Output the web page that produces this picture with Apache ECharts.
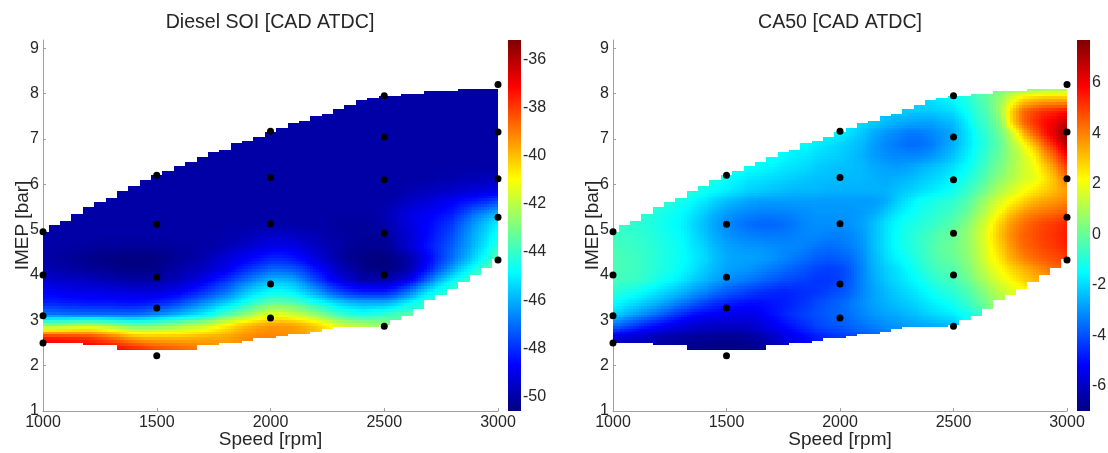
<!DOCTYPE html>
<html>
<head>
<meta charset="utf-8">
<style>
    html, body { margin: 0; padding: 0; background: #fff; }
    #chart { width: 1108px; height: 453px; }
</style>
<script src="https://cdn.jsdelivr.net/npm/echarts@6/dist/echarts.min.js"></script>
</head>
<body>
<div id="chart"></div>
<script>
const _ = null;

// cell centres of the map, every 50 rpm / 0.25 bar
const speeds = [1000,1050,1100,1150,1200,1250,1300,1350,1400,1450,1500,1550,1600,1650,1700,1750,1800,1850,1900,1950,2000,2050,2100,2150,2200,2250,2300,2350,2400,2450,2500,2550,2600,2650,2700,2750,2800,2850,2900,2950,3000];
const imepRows = [8.125,7.875,7.625,7.375,7.125,6.875,6.625,6.375,6.125,5.875,5.625,5.375,5.125,4.875,4.625,4.375,4.125,3.875,3.625,3.375,3.125,2.875,2.625,2.375];

// outline of the measured region for each speed above
const topEdge = [4.95,5.1,5.2,5.35,5.5,5.6,5.7,5.85,5.95,6.1,6.2,6.3,6.4,6.5,6.6,6.7,6.8,6.9,6.95,7.05,7.15,7.25,7.35,7.4,7.5,7.55,7.65,7.75,7.85,7.9,7.95,7.95,8.0,8.0,8.05,8.05,8.05,8.1,8.1,8.1,8.1];
const bottomEdge = [2.5,2.5,2.5,2.5,2.45,2.45,2.45,2.35,2.35,2.35,2.35,2.35,2.35,2.35,2.45,2.45,2.5,2.5,2.55,2.6,2.6,2.65,2.7,2.7,2.75,2.8,2.85,2.85,2.85,2.85,2.9,3.0,3.1,3.25,3.45,3.55,3.7,3.85,4.0,4.15,4.35];

// measured operating points
const pointSpeed = [1000,1000,1000,1000,1500,1500,1500,1500,1500,2000,2000,2000,2000,2000,2500,2500,2500,2500,2500,2500,3000,3000,3000,3000,3000];
const pointImep = [2.5,3.1,4.0,4.95,2.22,3.27,3.95,5.12,6.2,3.05,3.8,5.13,6.15,7.17,2.87,4.0,4.92,6.1,7.04,7.95,4.33,5.27,6.12,7.15,8.2];

const soiValues = [
[_,_,_,_,_,_,_,_,_,_, _,_,_,_,_,_,_,_,_,_, _,_,_,_,_,_,_,_,_,_, _,_,-50,-50,-50,-50,-50,-50,-50,-50,-50],
[_,_,_,_,_,_,_,_,_,_, _,_,_,_,_,_,_,_,_,_, _,_,_,_,_,_,_,-50,-50,-50, -50,-50,-50,-50,-50,-50,-50,-50,-50,-50,-50],
[_,_,_,_,_,_,_,_,_,_, _,_,_,_,_,_,_,_,_,_, _,_,_,_,_,-50,-50,-50,-50,-50, -50,-50,-50,-50,-50,-50,-50,-50,-50,-50,-50],
[_,_,_,_,_,_,_,_,_,_, _,_,_,_,_,_,_,_,_,_, _,-50,-50,-50,-50,-50,-50,-50,-50,-50, -50,-50,-50,-50,-50,-50,-50,-50,-50,-50,-50],
[_,_,_,_,_,_,_,_,_,_, _,_,_,_,_,_,_,_,_,-50, -50,-50,-50,-50,-50,-50,-50,-50,-50,-50, -50,-50,-50,-50,-50,-50,-50,-50,-50,-50,-50],
[_,_,_,_,_,_,_,_,_,_, _,_,_,_,_,_,_,-50,-50,-50, -50,-50,-50,-50,-50,-50,-50,-50,-50,-50, -50,-50,-50,-50,-50,-50,-50,-50,-50,-50,-50],
[_,_,_,_,_,_,_,_,_,_, _,_,_,_,-50,-50,-50,-50,-50,-50, -50,-50,-50,-50,-50,-50,-50,-50,-50,-50, -50,-50,-50,-50,-50,-50,-50,-50,-50,-50,-50],
[_,_,_,_,_,_,_,_,_,_, _,-50,-50,-50,-50,-50,-50,-50,-50,-50, -50,-50,-50,-50,-50,-50,-50,-50,-50,-50, -50,-50,-50,-50,-50,-50,-50,-50,-50,-50,-50],
[_,_,_,_,_,_,_,_,-50,-50, -50,-50,-50,-50,-50,-50,-50,-50,-50,-50, -50,-50,-50,-50,-50,-50,-50,-50,-50,-50, -50,-50,-50,-50,-50,-49.9,-49.9,-49.8,-49.8,-49.7,-49.6],
[_,_,_,_,_,_,-50,-50,-50,-50, -50,-50,-50,-50,-50,-50,-50,-50,-50,-50, -50,-50,-50,-50,-50,-50,-50,-50,-50,-50, -50,-50,-49.9,-49.8,-49.7,-49.6,-49.5,-49.4,-49.3,-49.2,-49.1],
[_,_,_,-50,-50,-50,-50,-50,-50,-50, -50,-50,-50,-50,-50,-50,-50,-50,-50,-50, -50,-50,-50,-50,-50,-50,-50,-50,-50,-50, -50,-49.9,-49.6,-49.4,-49.2,-49,-48.8,-48.5,-48.3,-48,-47.6],
[_,-50,-50,-50,-50,-50,-50,-50,-50,-50, -50,-50,-50,-50,-50,-50,-50,-50,-50,-50, -50,-50,-50,-50,-50,-50,-50,-50,-50,-50, -49.8,-49.5,-49.2,-49,-48.8,-48.6,-48.3,-47.7,-47,-46.5,-46],
[-50,-50,-50,-50,-50,-50,-50,-50,-50,-50, -50,-50,-50,-50,-50,-50,-50,-50,-50,-50, -50,-50,-50,-50,-50,-50,-50.2,-50.2,-50.2,-50.1, -50,-49.6,-49.2,-48.9,-48.6,-48.2,-47.8,-47,-46.3,-45.6,-45],
[-50,-50,-50,-50,-50,-50,-50,-50,-50,-50, -50,-50,-50,-50,-50,-50,-49.9,-49.9,-49.8,-49.6, -49.5,-49.5,-49.6,-49.7,-49.8,-50,-50,-50.1,-50.2,-50.2, -50.2,-49.8,-49.4,-49,-48.5,-48,-47.5,-46.7,-46,-45.3,-44.6],
[-50,-50,-50,-50.1,-50.1,-50.2,-50.2,-50.2,-50.2,-50.2, -50.2,-50.2,-50.1,-50.1,-50,-50,-49.8,-49.6,-49.4,-49.2, -49,-49,-49,-49.3,-49.6,-49.8,-50,-50.2,-50.3,-50.3, -50.3,-49.9,-49.4,-48.9,-48.3,-47.8,-47.2,-46.5,-45.8,-45,-44.2],
[-50,-50.1,-50.2,-50.3,-50.4,-50.5,-50.5,-50.6,-50.6,-50.6, -50.5,-50.4,-50.2,-50.1,-49.9,-49.6,-49.3,-49,-48.8,-48.5, -48.2,-48.2,-48.4,-48.8,-49.2,-49.6,-50,-50.3,-50.5,-50.6, -50.6,-50.4,-50,-49.4,-48.6,-47.8,-47,-46.2,-45.4,-44.5,-43.5],
[-49.8,-49.9,-50,-50.1,-50.2,-50.3,-50.4,-50.5,-50.5,-50.5, -50.4,-50.2,-50,-49.8,-49.6,-49.3,-49,-48.5,-48,-47.6, -47.2,-47.2,-47.4,-47.9,-48.5,-49,-49.6,-50,-50.4,-50.5, -50.6,-50.4,-50,-49.2,-48.2,-47.2,-46.2,-45.3,-44.5,-43.7,-43],
[-49.3,-49.4,-49.5,-49.5,-49.6,-49.7,-49.8,-49.9,-50,-50, -50,-49.8,-49.6,-49.3,-49,-48.5,-48,-47.4,-46.8,-46.3, -45.8,-45.8,-46,-46.8,-47.6,-48.4,-49,-49.4,-49.8,-49.8, -49.8,-49.5,-49,-48,-46.8,-45.7,-44.8,-44.2,-43.5,_,_],
[-48.8,-48.8,-48.9,-49,-49,-49,-49.1,-49.1,-49.2,-49.2, -49.2,-49,-48.8,-48.4,-48,-47.5,-47,-46.3,-45.6,-45.2, -44.8,-44.8,-45,-45.6,-46.2,-47,-47.6,-48,-48.3,-48.3, -48.3,-47.8,-47,-46,-45,-44.4,-43.8,_,_,_,_],
[-48.2,-48.2,-48.3,-48.3,-48.4,-48.4,-48.4,-48.5,-48.5,-48.4, -48.2,-48,-47.6,-47.1,-46.6,-46.1,-45.6,-45.1,-44.4,-43.8, -43.3,-43.3,-43.5,-44,-44.5,-45,-45.5,-45.8,-46,-46, -46,-45.6,-45,-44.4,-43.8,_,_,_,_,_,_],
[-46.8,-46.8,-46.9,-47,-47,-47,-47,-47,-47,-46.8, -46.5,-46.2,-45.8,-45.4,-45,-44.4,-43.6,-43,-42.4,-41.8, -41.3,-41.3,-41.6,-42,-42.5,-43.1,-43.8,-44.1,-44.4,-44.2, -44,-43.7,-43.4,_,_,_,_,_,_,_,_],
[-42.5,-42.4,-42.2,-42,-41.8,-42,-42.3,-42.7,-43,-43, -42.8,-42.6,-42.3,-42,-41.8,-41.4,-40.8,-40.3,-39.9,-39.6, -39.4,-39.4,-39.5,-39.8,-40.2,-40.8,-41.4,-41.8,-42,-42.2, -42.4,_,_,_,_,_,_,_,_,_,_],
[-37.6,-37.7,-37.8,-37.9,-38,-38.4,-38.8,-39.3,-39.8,-40, -40,-40,-40,-39.9,-39.8,-39.7,-39.6,-39.4,-39.2,-39.1, -39.1,-39.2,-39.3,-39.5,-39.8,-40.2,_,_,_,_, _,_,_,_,_,_,_,_,_,_,_],
[-36.5,-36.6,-36.7,-36.7,-36.8,-36.9,-37,-37.3,-37.6,-37.9, -38.2,-38.4,-38.6,-38.8,-39,-39.2,_,_,_,_, _,_,_,_,_,_,_,_,_,_, _,_,_,_,_,_,_,_,_,_,_]
];

const ca50Values = [
[_,_,_,_,_,_,_,_,_,_, _,_,_,_,_,_,_,_,_,_, _,_,_,_,_,_,_,_,_,_, _,_,-0.2,0,0.2,0.4,0.5,0.6,0.7,0.8,0.9],
[_,_,_,_,_,_,_,_,_,_, _,_,_,_,_,_,_,_,_,_, _,_,_,_,_,_,_,-2,-1.9,-1.7, -1.5,-1.1,-0.6,-0.1,0.6,1.6,2.6,3,3.2,3.2,3.2],
[_,_,_,_,_,_,_,_,_,_, _,_,_,_,_,_,_,_,_,_, _,_,_,_,_,-2.2,-2.2,-2.2,-2.2,-2.1, -1.9,-1.4,-0.8,-0.3,0.7,2.6,4.2,4.8,5.2,5.4,5.6],
[_,_,_,_,_,_,_,_,_,_, _,_,_,_,_,_,_,_,_,_, _,-1.8,-2,-2.2,-2.4,-2.6,-2.7,-2.8,-2.8,-2.6, -2.4,-1.8,-1,-0.5,0.3,2.5,4.2,5.1,5.7,6.1,6.7],
[_,_,_,_,_,_,_,_,_,_, _,_,_,_,_,_,_,_,_,-1.6, -1.7,-2,-2.3,-2.7,-3,-3.2,-3.4,-3.4,-3.2,-3, -2.7,-2,-1.3,-0.7,0,1.2,3,4.4,5.5,6.5,7.5],
[_,_,_,_,_,_,_,_,_,_, _,_,_,_,_,_,_,-1.5,-1.7,-1.9, -2.1,-2.3,-2.5,-2.9,-3.2,-3.4,-3.6,-3.6,-3.4,-3, -2.6,-2,-1.4,-0.8,-0.2,0.8,1.8,3,4.4,5.6,7],
[_,_,_,_,_,_,_,_,_,_, _,_,_,_,-1.3,-1.5,-1.7,-1.8,-2,-2.1, -2.2,-2.4,-2.6,-2.9,-3.1,-3.2,-3.2,-3.2,-3,-2.7, -2.3,-1.8,-1.2,-0.6,0,0.7,1.4,2.2,3.5,4.6,5.8],
[_,_,_,_,_,_,_,_,_,_, _,-1.2,-1.4,-1.5,-1.6,-1.8,-1.9,-2,-2.2,-2.3, -2.4,-2.4,-2.5,-2.7,-2.8,-2.9,-2.8,-2.6,-2.4,-2.2, -1.9,-1.5,-1,-0.4,0.2,0.8,1.4,1.9,2.8,3.8,5],
[_,_,_,_,_,_,_,_,-1,-1.1, -1.4,-1.6,-1.8,-1.9,-2,-2.1,-2.2,-2.3,-2.4,-2.4, -2.5,-2.5,-2.5,-2.6,-2.7,-2.6,-2.5,-2.3,-2.1,-1.9, -1.6,-1.2,-0.7,-0.1,0.5,1,1.5,1.8,2.4,3.2,4.2],
[_,_,_,_,_,_,-0.8,-1,-1.2,-1.5, -1.7,-1.9,-2.1,-2.2,-2.3,-2.4,-2.5,-2.5,-2.5,-2.6, -2.6,-2.6,-2.6,-2.6,-2.6,-2.4,-2.2,-2,-1.8,-1.6, -1.3,-0.8,-0.3,0.3,1,1.5,2,2.4,2.8,3.2,3.6],
[_,_,_,-0.7,-0.8,-1,-1.2,-1.5,-1.8,-2.1, -2.4,-2.6,-2.8,-2.9,-2.9,-2.9,-2.9,-2.9,-2.9,-2.9, -2.9,-2.9,-2.9,-2.9,-2.7,-2.2,-1.8,-1.4,-1.2,-1, -0.8,-0.4,0.2,1,1.6,2.2,2.7,3.2,3.5,3.7,3.9],
[_,-0.7,-0.8,-0.9,-1.1,-1.3,-1.5,-1.8,-2.2,-2.6, -2.9,-3.1,-3.2,-3.3,-3.3,-3.3,-3.2,-3.1,-3,-3, -3,-3,-2.9,-2.7,-2.3,-1.8,-1.5,-1.2,-1,-0.8, -0.5,-0.1,0.6,1.3,2.2,3,3.6,4,4.2,4.4,4.6],
[-0.6,-0.7,-0.9,-1,-1.2,-1.4,-1.6,-2,-2.4,-2.8, -3.2,-3.4,-3.6,-3.7,-3.7,-3.6,-3.4,-3.2,-3.1,-3.1, -3.1,-3,-2.8,-2.4,-1.9,-1.5,-1.2,-1,-0.8,-0.5, -0.2,0.3,1,1.8,2.8,3.6,4.2,4.6,4.9,5.1,5.4],
[-0.6,-0.7,-0.8,-0.9,-1.1,-1.3,-1.5,-1.9,-2.3,-2.7, -3,-3.2,-3.3,-3.4,-3.4,-3.4,-3.3,-3.2,-3.2,-3.3, -3.3,-3.2,-2.9,-2.4,-1.9,-1.4,-1.1,-0.8,-0.5,-0.2, 0,0.5,1.2,2,3,3.8,4.4,4.7,5,5.2,5.5],
[-0.5,-0.6,-0.7,-0.8,-1,-1.2,-1.4,-1.8,-2.1,-2.5, -2.8,-2.9,-3,-3,-3.1,-3.2,-3.2,-3.3,-3.5,-3.6, -3.5,-3.3,-3,-2.4,-1.9,-1.4,-1.1,-0.8,-0.4,-0.1, 0.1,0.5,1.1,1.9,2.8,3.6,4.3,4.6,4.9,5.1,5.4],
[-0.4,-0.5,-0.6,-0.8,-1,-1.2,-1.4,-1.7,-2,-2.4, -2.7,-2.8,-2.8,-2.9,-3,-3.2,-3.4,-3.6,-3.8,-3.9, -3.8,-3.6,-3.1,-2.5,-2,-1.6,-1.3,-0.9,-0.5,-0.2, 0,0.4,1,1.8,2.5,3.3,3.9,4.3,4.6,4.8,5],
[-0.4,-0.5,-0.6,-0.8,-1,-1.2,-1.5,-1.8,-2.2,-2.5, -2.8,-2.9,-3,-3.2,-3.4,-3.6,-3.8,-4,-4.2,-4.3, -4.2,-3.8,-3.2,-2.6,-2.2,-1.9,-1.5,-1.1,-0.7,-0.4, -0.3,0.2,0.8,1.5,2.1,2.7,3.2,3.6,4,4.3,4.6],
[-0.5,-0.6,-0.7,-0.9,-1.2,-1.5,-1.8,-2.2,-2.5,-2.8, -3.1,-3.3,-3.5,-3.7,-3.9,-4.1,-4.2,-4.3,-4.4,-4.4, -4.2,-3.8,-3.2,-2.7,-2.3,-2,-1.7,-1.4,-1,-0.7, -0.5,-0.1,0.5,1.1,1.7,2.2,2.7,3.1,3.4,_,_],
[-0.9,-1.1,-1.3,-1.6,-1.9,-2.2,-2.5,-2.9,-3.2,-3.6, -3.9,-4.1,-4.3,-4.5,-4.6,-4.7,-4.6,-4.5,-4.4,-4.2, -4,-3.7,-3.2,-2.8,-2.5,-2.2,-2,-1.7,-1.4,-1.1, -0.9,-0.5,0,0.6,1.2,1.6,2,_,_,_,_],
[-1.4,-1.7,-2,-2.3,-2.6,-3,-3.4,-3.8,-4.2,-4.5, -4.7,-4.9,-5,-5,-4.9,-4.8,-4.6,-4.4,-4.1,-3.9, -3.7,-3.4,-3.1,-2.8,-2.6,-2.4,-2.2,-2,-1.7,-1.5, -1.2,-0.8,-0.3,0.3,0.8,_,_,_,_,_,_],
[-2.1,-2.5,-2.9,-3.3,-3.7,-4.2,-4.6,-5,-5.2,-5.3, -5.4,-5.5,-5.5,-5.3,-5,-4.7,-4.4,-4.2,-4,-3.8, -3.7,-3.5,-3.2,-3,-2.8,-2.7,-2.5,-2.3,-2.1,-1.9, -1.7,-1.4,-0.9,_,_,_,_,_,_,_,_],
[-3.6,-4,-4.4,-4.8,-5.1,-5.4,-5.6,-5.8,-5.9,-6, -6,-6,-5.9,-5.7,-5.4,-5.1,-4.8,-4.5,-4.2,-4, -3.9,-3.7,-3.5,-3.3,-3.1,-3,-2.9,-2.8,-2.7,-2.6, -2.4,_,_,_,_,_,_,_,_,_,_],
[-5.6,-5.8,-6,-6.1,-6.3,-6.4,-6.5,-6.6,-6.6,-6.7, -6.7,-6.7,-6.6,-6.4,-6,-5.7,-5.4,-5.1,-4.8,-4.6, -4.4,-4.2,-4,-3.8,-3.6,-3.4,_,_,_,_, _,_,_,_,_,_,_,_,_,_,_],
[-6.2,-6.3,-6.4,-6.5,-6.5,-6.6,-6.7,-6.8,-6.9,-6.9, -6.9,-6.9,-6.8,-6.7,-6.5,-6.3,_,_,_,_, _,_,_,_,_,_,_,_,_,_, _,_,_,_,_,_,_,_,_,_,_]
];

const speedTicks = [1000, 1500, 2000, 2500, 3000];
const imepTicks = [1, 2, 3, 4, 5, 6, 7, 8, 9];
const soiTicks = [-50, -48, -46, -44, -42, -40, -38, -36];
const ca50Ticks = [-6, -4, -2, 0, 2, 4, 6];
const soiRange = [-50.6, -35.2];
const ca50Range = [-7, 7.7];

const jet = ["#00007f", "#0000ff", "#007fff", "#00ffff", "#7fff7f", "#ffff00", "#ff7f00", "#ff0000", "#7f0000"];
const TEXT = "#262626";
const AXIS = "#a0a0a0";
const FONT = "'Liberation Sans', Arial, sans-serif";
const SHADE_STEPS = 4;

const toCells = (grid) => {
    const cells = [];
    grid.forEach((row, r) => {
        row.forEach((value, c) => {
            if (value !== null) cells.push([speeds[c], imepRows[r], value, r, c]);
        });
    });
    return cells;
};

// colour shading between the read cell values, same idea as shading interp in matlab.
// the series data itself stays the values
const shadeAt = (grid, u, v) => {
    const r0 = Math.floor(v);
    const c0 = Math.floor(u);
    let sum = 0;
    let weight = 0;
    [[r0, c0, (1 - (v - r0)) * (1 - (u - c0))],
     [r0, c0 + 1, (1 - (v - r0)) * (u - c0)],
     [r0 + 1, c0, (v - r0) * (1 - (u - c0))],
     [r0 + 1, c0 + 1, (v - r0) * (u - c0)]].forEach(([r, c, w]) => {
        const value = grid[r] ? grid[r][c] : null;
        if (value !== null && value !== undefined) {
            sum += value * w;
            weight += w;
        }
    });
    return weight > 0 ? sum / weight : null;
};

// one map cell, trimmed to the outline of the measured region
const cellRenderer = (grid, range) => (params, api) => {
    const x = api.value(0);
    const y = api.value(1);
    const r = api.value(3);
    const c = api.value(4);
    const children = [];
    for (let i = 0; i < SHADE_STEPS; i++) {
        for (let j = 0; j < SHADE_STEPS; j++) {
            const x0 = Math.max(x - 25 + (50 * i) / SHADE_STEPS, 1000);
            const x1 = Math.min(x - 25 + (50 * (i + 1)) / SHADE_STEPS, 3000);
            const y1 = Math.min(y + 0.125 - (0.25 * j) / SHADE_STEPS, topEdge[c]);
            const y0 = Math.max(y + 0.125 - (0.25 * (j + 1)) / SHADE_STEPS, bottomEdge[c]);
            if (x1 <= x0 || y1 <= y0) continue;
            const a = api.coord([x0, y1]);
            const b = api.coord([x1, y0]);
            const left = Math.round(a[0]);
            const top = Math.round(a[1]);
            const width = Math.round(b[0]) - left;
            const height = Math.round(b[1]) - top;
            if (width <= 0 || height <= 0) continue;
            const value = shadeAt(grid, c + (i + 0.5) / SHADE_STEPS - 0.5, r + (j + 0.5) / SHADE_STEPS - 0.5);
            const t = Math.min(1, Math.max(0, (value - range[0]) / (range[1] - range[0])));
            children.push({
                type: "rect",
                shape: { x: left, y: top, width, height },
                style: { fill: echarts.color.lerp(t, jet) },
            });
        }
    }
    return { type: "group", children };
};

const barRenderer = (range) => (params, api) => {
    const a = api.coord([0, range[1]]);
    const b = api.coord([1, range[0]]);
    return {
        type: "rect",
        shape: { x: a[0], y: a[1], width: b[0] - a[0], height: b[1] - a[1] },
        style: {
            fill: new echarts.graphic.LinearGradient(
                0, 0, 0, 1,
                jet.map((color, i) => ({ offset: 1 - i / (jet.length - 1), color })).reverse()
            ),
        },
    };
};

const points = pointSpeed.map((s, i) => [s, pointImep[i]]);
const textStyle = { color: TEXT, fontFamily: FONT };

const panelAxes = (gridIndex) => ({
    xAxis: {
        type: "value",
        gridIndex,
        min: 1000,
        max: 3000,
        interval: 500,
        name: "Speed [rpm]",
        nameLocation: "middle",
        nameGap: 19,
        nameMoveOverlap: false,
        nameTextStyle: { ...textStyle, fontSize: 19 },
        axisLine: { onZero: false, lineStyle: { color: AXIS } },
        axisTick: { inside: true, length: 3, lineStyle: { color: AXIS } },
        axisLabel: { ...textStyle, fontSize: 16, margin: 4, formatter: (v) => String(v), customValues: speedTicks },
        splitLine: { show: false },
    },
    yAxis: {
        type: "value",
        gridIndex,
        min: 1,
        max: 9.18,
        name: "IMEP [bar]",
        nameLocation: "middle",
        nameGap: 11,
        nameMoveOverlap: false,
        nameTextStyle: { ...textStyle, fontSize: 19 },
        axisLine: { onZero: false, lineStyle: { color: AXIS } },
        axisTick: { inside: true, length: 3, lineStyle: { color: AXIS }, customValues: imepTicks },
        axisLabel: { ...textStyle, fontSize: 16, margin: 4, customValues: imepTicks },
        splitLine: { show: false },
    },
});

const barAxes = (gridIndex, range, ticks) => ({
    xAxis: { type: "value", gridIndex, show: false, min: 0, max: 1 },
    yAxis: {
        type: "value",
        gridIndex,
        position: "right",
        min: range[0],
        max: range[1],
        axisLine: { show: false },
        axisTick: { show: false },
        axisLabel: { ...textStyle, fontSize: 16, margin: 2, customValues: ticks },
        splitLine: { show: false },
    },
});

const soiPanel = panelAxes(0);
const caPanel = panelAxes(1);
const soiBar = barAxes(2, soiRange, soiTicks);
const caBar = barAxes(3, ca50Range, ca50Ticks);

const chart = echarts.init(document.getElementById("chart"));
chart.setOption({
    animation: false,
    backgroundColor: "#fff",
    title: [
        { text: "Diesel SOI [CAD ATDC]", left: 265, top: 8, textAlign: "center", textStyle: { ...textStyle, fontSize: 19.6, fontWeight: "normal" } },
        { text: "CA50 [CAD ATDC]", left: 835, top: 8, textAlign: "center", textStyle: { ...textStyle, fontSize: 19.6, fontWeight: "normal" } },
    ],
    grid: [
        { left: 43, top: 40, width: 455, height: 371, outerBoundsMode: "none" },
        { left: 613, top: 40, width: 454, height: 371, outerBoundsMode: "none" },
        { left: 508, top: 40, width: 13, height: 371, outerBoundsMode: "none" },
        { left: 1077, top: 40, width: 13, height: 371, outerBoundsMode: "none" },
    ],
    xAxis: [soiPanel.xAxis, caPanel.xAxis, soiBar.xAxis, caBar.xAxis],
    yAxis: [soiPanel.yAxis, caPanel.yAxis, soiBar.yAxis, caBar.yAxis],
    series: [
        {
            type: "custom", xAxisIndex: 0, yAxisIndex: 0, silent: true,
            encode: { x: 0, y: 1 }, renderItem: cellRenderer(soiValues, soiRange), data: toCells(soiValues),
        },
        {
            type: "scatter", xAxisIndex: 0, yAxisIndex: 0, silent: true, clip: false, z: 5,
            symbolSize: 7, itemStyle: { color: "#000", opacity: 1 }, data: points,
        },
        {
            type: "custom", xAxisIndex: 1, yAxisIndex: 1, silent: true,
            encode: { x: 0, y: 1 }, renderItem: cellRenderer(ca50Values, ca50Range), data: toCells(ca50Values),
        },
        {
            type: "scatter", xAxisIndex: 1, yAxisIndex: 1, silent: true, clip: false, z: 5,
            symbolSize: 7, itemStyle: { color: "#000", opacity: 1 }, data: points,
        },
        {
            type: "custom", xAxisIndex: 2, yAxisIndex: 2, silent: true,
            renderItem: barRenderer(soiRange), data: [[0, soiRange[0]]],
        },
        {
            type: "custom", xAxisIndex: 3, yAxisIndex: 3, silent: true,
            renderItem: barRenderer(ca50Range), data: [[0, ca50Range[0]]],
        },
    ],
});
</script>
</body>
</html>
